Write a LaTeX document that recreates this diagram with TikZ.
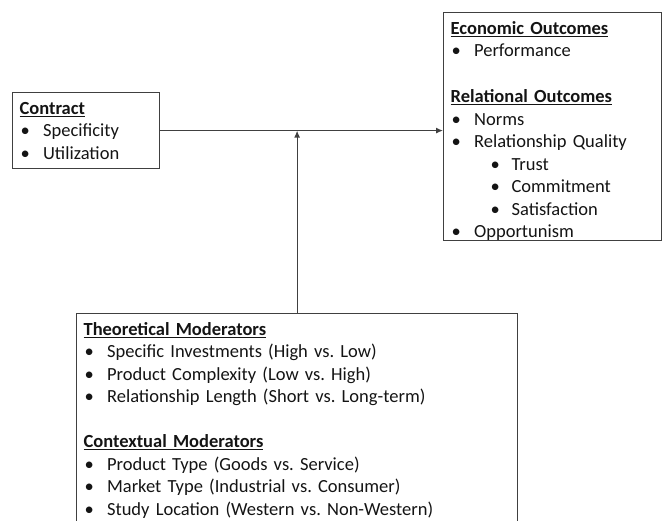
\documentclass[tikz,border=0pt]{standalone}
\usepackage{fontspec}
\setmainfont{Carlito}
\usetikzlibrary{arrows.meta}
\frenchspacing
\newcommand{\itm}[1]{\makebox[23.5pt][l]{\hspace{1pt}\textbullet}#1}
\newcommand{\subitm}[1]{\hspace{39pt}\makebox[22pt][l]{\hspace{1pt}\textbullet}#1}
\newcommand{\head}[1]{\underline{\textbf{#1}}}
\newcommand{\toprule}{\rule{0pt}{21.8pt}}
\newcommand{\dpt}[1]{\rule[-#1]{0pt}{#1}}
\tikzset{
  box/.style = {draw=black!75, line width=1.2pt, anchor=north west, align=left,
    inner xsep=7pt, inner ysep=0pt, font=\fontsize{18.5}{22.5}\selectfont, text=black!92},
  link/.style = {draw=black!75, line width=1.2pt, -{Latex[length=7pt,width=6pt]}}
}
\begin{document}
\begin{tikzpicture}[x=1pt, y=-1pt]
\clip (0,0) rectangle (662,521);
\node[box, text width=133pt, minimum height=76pt] (contract) at (12,92)
  {\toprule\head{Contract}\\ \itm{Specificity}\\ \itm{Utilization}\dpt{9pt}};
\node[box, text width=204pt, minimum height=227pt] (outcomes) at (443,12)
  {\toprule\head{Economic Outcomes}\\ \itm{Performance}\\[23.5pt]
   \head{Relational Outcomes}\\ \itm{Norms}\\ \itm{Relationship Quality}\\
   \subitm{Trust}\\ \subitm{Commitment}\\ \subitm{Satisfaction}\\ \itm{Opportunism}\dpt{2pt}};
\node[box, text width=427pt] (moderators) at (76,313)
  {\toprule\head{Theoretical Moderators}\\ \itm{Specific Investments (High vs. Low)}\\
   \itm{Product Complexity (Low vs. High)}\\ \itm{Relationship Length (Short vs. Long-term)}\\[22.5pt]
   \head{Contextual Moderators}\\ \itm{Product Type (Goods vs. Service)}\\
   \itm{Market Type (Industrial vs. Consumer)}\\ \itm{Study Location (Western vs. Non-Western)}\dpt{10pt}};
% main path and moderating path
\draw[link] (contract.east) -- (contract.east -| outcomes.west);
\draw[link] (moderators.north) -- (moderators.north |- contract.east);
\end{tikzpicture}
\end{document}
